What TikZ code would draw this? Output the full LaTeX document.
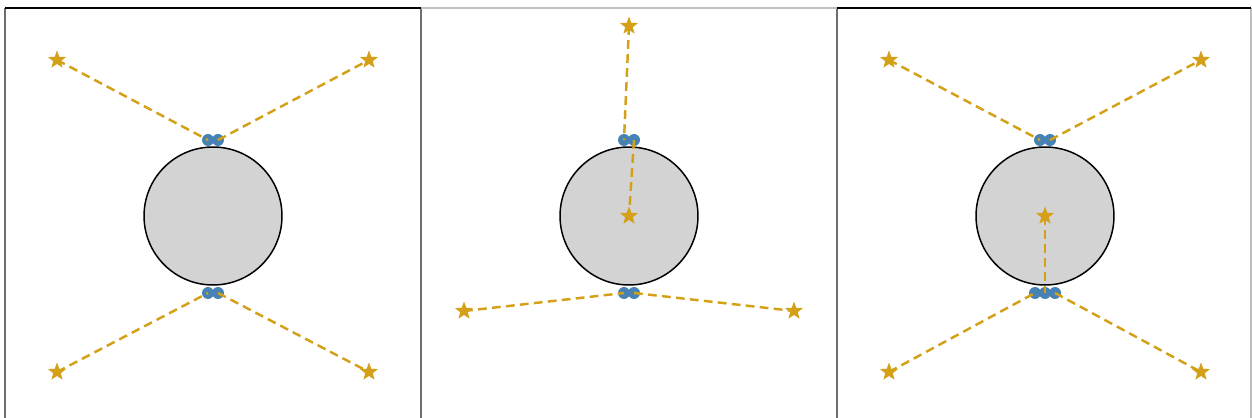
\documentclass[tikz,border=0pt]{standalone}
\usepackage{xcolor}
\usepackage{tikz}
\usetikzlibrary{shapes.geometric, positioning}
\definecolor{mygold}{RGB}{212,160,23}
\definecolor{myblue}{RGB}{70,130,180}
\definecolor{mygrey}{RGB}{211,211,211}
\definecolor{myframe}{RGB}{110,110,110}
\definecolor{mylight}{RGB}{190,190,190}
\tikzset{
  ball/.style={circle, draw=black, fill=mygrey, minimum size=2.76cm,
    inner sep=0pt, line width=0.85pt},
  site/.style={circle, fill=myblue, minimum size=0.24cm, inner sep=0pt},
  charge/.style={star, star points=5, star point ratio=2.4, fill=mygold,
    minimum size=0.38cm, inner sep=0pt},
  bond/.style={dashed, dash pattern=on 5pt off 3pt, line width=1.4pt, color=mygold},
  frame/.style={line width=0.6pt, color=myframe}
}

\begin{document}
\begin{tikzpicture}[x=0.02cm, y=-0.02cm]
  \useasboundingbox (0,0) rectangle (1252,418);

  % frames
  \draw[frame] (5,418) -- (5,8);
  \draw[frame] (421,418) -- (421,8);
  \draw[frame] (837,418) -- (837,8);
  \draw[line width=0.6pt, mylight] (1251,418) -- (1251,8);
  \draw[line width=0.8pt, black] (5,8) -- (421,8);
  \draw[line width=0.6pt, mylight] (421,8) -- (837,8);
  \draw[line width=0.8pt, black] (837,8) -- (1251,8);

  % panel 1
  \node[ball] (b1) at (213,216) {};
  \node[site] (t1a) at (208,140) {};
  \node[site] (t1b) at (218,140) {};
  \node[site] (u1a) at (208,293) {};
  \node[site] (u1b) at (218,293) {};
  \node[charge] (q1a) at (57,60) {};
  \node[charge] (q1b) at (369,60) {};
  \node[charge] (q1c) at (57,372) {};
  \node[charge] (q1d) at (369,372) {};
  \draw[bond] (q1a.center) -- (t1a.center);
  \draw[bond] (t1b.center) -- (q1b.center);
  \draw[bond] (q1c.center) -- (u1a.center);
  \draw[bond] (u1b.center) -- (q1d.center);

  % panel 2
  \node[ball] (b2) at (629,216) {};
  \node[site] (t2a) at (624,140) {};
  \node[site] (t2b) at (634,140) {};
  \node[site] (u2a) at (624,293) {};
  \node[site] (u2b) at (634,293) {};
  \node[charge] (q2a) at (629,26) {};
  \node[charge] (q2b) at (629,216) {};
  \node[charge] (q2c) at (464,311) {};
  \node[charge] (q2d) at (794,311) {};
  \draw[bond] (q2a.center) -- (t2a.center);
  \draw[bond] (t2b.center) -- (q2b.center);
  \draw[bond] (q2c.center) -- (u2a.center);
  \draw[bond] (u2b.center) -- (q2d.center);

  % panel 3
  \node[ball] (b3) at (1045,216) {};
  \node[site] (t3a) at (1040,140) {};
  \node[site] (t3b) at (1050,140) {};
  \node[site] (u3a) at (1035,293) {};
  \node[site] (u3b) at (1045,293) {};
  \node[site] (u3c) at (1055,293) {};
  \node[charge] (q3a) at (889,60) {};
  \node[charge] (q3b) at (1201,60) {};
  \node[charge] (q3c) at (889,372) {};
  \node[charge] (q3d) at (1201,372) {};
  \node[charge] (q3e) at (1045,216) {};
  \draw[bond] (q3a.center) -- (t3a.center);
  \draw[bond] (t3b.center) -- (q3b.center);
  \draw[bond] (q3e.center) -- (u3b.center);
  \draw[bond] (q3c.center) -- (u3a.center);
  \draw[bond] (u3c.center) -- (q3d.center);
\end{tikzpicture}
\end{document}
